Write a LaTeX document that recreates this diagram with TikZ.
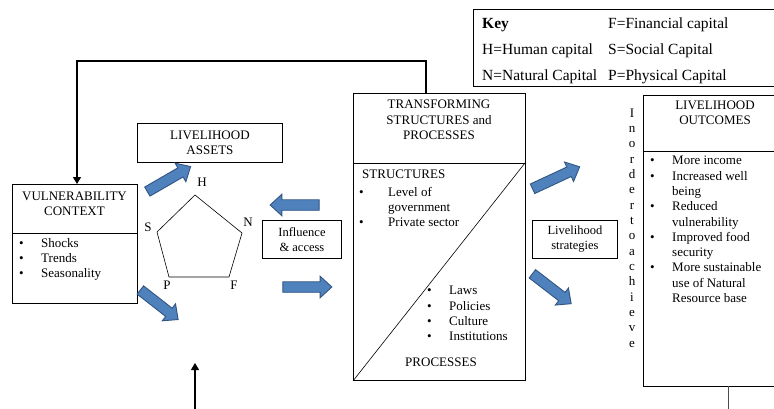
\documentclass[tikz,border=0pt]{standalone}
\usepackage{fontspec}
\setmainfont{Liberation Serif}
\usetikzlibrary{shapes.arrows,arrows.meta}
\definecolor{arrfill}{RGB}{79,129,189}
\definecolor{arrline}{RGB}{50,85,130}
\newcommand{\bl}[1]{\makebox[22pt][l]{\textbullet}#1}
\newcommand{\cl}[1]{\hspace*{22pt}#1}
\newcommand{\blw}[1]{\makebox[29pt][l]{\textbullet}#1}
\newcommand{\clw}[1]{\hspace*{29pt}#1}
\begin{document}
\begin{tikzpicture}[x=1pt,y=-1pt,
  box/.style={draw, line width=0.9pt, inner sep=0pt},
  txt/.style={font=\fontsize{13}{15.3}\selectfont, inner sep=0pt},
  keytxt/.style={font=\fontsize{15.5}{18}\selectfont, inner sep=0pt, anchor=base west},
  barrow/.style={single arrow, draw=arrline, fill=arrfill, line width=0.9pt,
    inner xsep=0pt, inner ysep=4.8pt, single arrow head extend=5.5pt,
    single arrow tip angle=85},
  arr/.style={line width=1.1pt, -{Triangle[length=7pt,width=8pt]}}]
\clip (0,0) rectangle (774,408);
\fill[white] (0,0) rectangle (774,408);

% Key box
\draw[box] (780,9) -- (473,9) -- (473,86) -- (780,86);
\node[keytxt, font=\fontsize{15.5}{18}\selectfont\bfseries] (k0) at (482,28) {Key};
\node[keytxt] (k1) at (608,28) {F=Financial capital};
\node[keytxt] (k2) at (482,54) {H=Human capital};
\node[keytxt] (k3) at (608,54) {S=Social Capital};
\node[keytxt] (k4) at (482,80) {N=Natural Capital};
\node[keytxt] (k5) at (608,80) {P=Physical Capital};

% Vulnerability context
\node[box, anchor=north west, minimum width=125pt, minimum height=119pt] (vc) at (12,184) {};
\draw[line width=0.9pt] (12,233) -- (137,233);
\node[txt, align=center] (vct) at (74.5,204) {VULNERABILITY\\CONTEXT};
\node[txt, align=left, anchor=north west] (vcl) at (19,238) {\bl{Shocks}\\\bl{Trends}\\\bl{Seasonality}};

% Livelihood assets
\node[box, anchor=north west, minimum width=145pt, minimum height=39pt] (la) at (137,123) {};
\node[txt, align=center] (lat) at (la.center) {LIVELIHOOD\\ASSETS};

% Pentagon
\coordinate (pH) at (195,195);
\coordinate (pN) at (242,233);
\coordinate (pF) at (229,277);
\coordinate (pP) at (169,277);
\coordinate (pS) at (157,232);
\draw[line width=0.6pt] (pH) -- (pN) -- (pF) -- (pP) -- (pS) -- cycle;
\node[txt] (lH) at (202,182) {H};
\node[txt] (lN) at (248,222) {N};
\node[txt] (lF) at (234,285) {F};
\node[txt] (lP) at (167,285) {P};
\node[txt] (lS) at (148,227) {S};

% Influence & access
\node[box, anchor=north west, minimum width=79pt, minimum height=38pt] (ia) at (262,220) {};
\node[txt, align=center, font=\fontsize{12.5}{15}\selectfont] (iat) at (ia.center) {Influence\\\& access};

% Transforming structures
\node[box, anchor=north west, minimum width=172pt, minimum height=287pt] (ts) at (353,93) {};
\draw[line width=0.9pt] (353,163) -- (525,163);
\draw[line width=0.6pt] (ts.south west) -- (525,163);
\node[txt, align=center] (tst) at (439,120) {TRANSFORMING\\STRUCTURES and\\PROCESSES};
\node[txt, anchor=west] (str) at (362,174) {STRUCTURES};
\node[txt, align=left, anchor=north west] (strl) at (359,187) {\blw{Level of}\\\clw{government}\\\blw{Private sector}};
\node[txt, align=left, anchor=north west] (prl) at (427,286) {\bl{Laws}\\\bl{Policies}\\\bl{Culture}\\\bl{Institutions}};
\node[txt] (pro) at (441,362) {PROCESSES};

% Livelihood strategies
\node[box, anchor=north west, minimum width=85pt, minimum height=38pt] (ls) at (532,220) {};
\node[txt, align=center, font=\fontsize{12.5}{15}\selectfont] (lst) at (ls.center) {Livelihood\\strategies};

% In order to achieve
\node[txt, align=center, font=\fontsize{13}{15.33}\selectfont] (ioa) at (632,228)
 {I\\n\\o\\r\\d\\e\\r\\t\\o\\a\\c\\h\\i\\e\\v\\e};

% Livelihood outcomes
\draw[box] (780,95) -- (643,95) -- (643,386) -- (780,386);
\draw[line width=0.9pt] (643,151) -- (780,151);
\node[txt, align=center] (lot) at (715,113) {LIVELIHOOD\\OUTCOMES};
\node[txt, align=left, anchor=north west] (lol) at (650,156)
 {\bl{More income}\\\bl{Increased well}\\\cl{being}\\\bl{Reduced}\\\cl{vulnerability}\\\bl{Improved food}\\\cl{security}\\\bl{More sustainable}\\\cl{use of Natural}\\\cl{Resource base}};
\coordinate (lob) at (728,386);
\coordinate (lobe) at (728,410);
\draw[line width=0.9pt, black!70] (lob) -- (lobe);

% Feedback arrow
\coordinate (fb1) at (426,93);
\coordinate (fb2) at (426,61);
\coordinate (fb3) at (77,61);
\coordinate (fb4) at (77,184);
\draw[arr] (fb1) -- (fb2) -- (fb3) -- (fb4);

% Bottom arrow
\coordinate (bb) at (195,410);
\coordinate (bt) at (195,363);
\draw[arr] (bb) -- (bt);

% Blue arrows
\node[barrow, minimum height=50pt, rotate=30] (b1) at (166.5,180.5) {};
\node[barrow, minimum height=48pt, rotate=-38] (b2) at (157,303) {};
\node[barrow, minimum height=49pt, rotate=180] (b3) at (297.5,205) {};
\node[barrow, minimum height=49pt] (b4) at (304.5,287) {};
\node[barrow, minimum height=52pt, rotate=25] (b5) at (553.5,179) {};
\node[barrow, minimum height=49pt, rotate=-37.6] (b6) at (549.5,287) {};
\end{tikzpicture}
\end{document}
